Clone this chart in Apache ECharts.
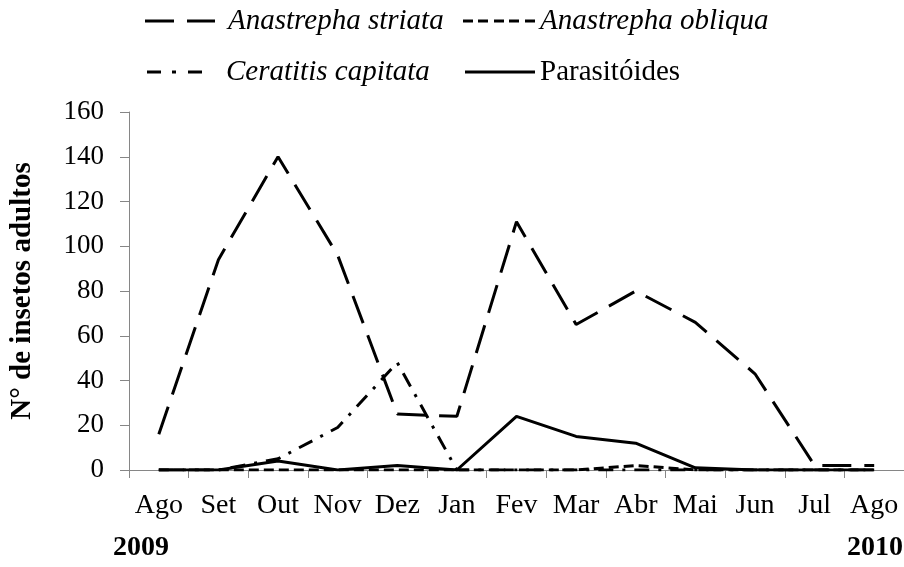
<!DOCTYPE html>
<html>
<head>
<meta charset="utf-8">
<script src="https://cdn.jsdelivr.net/npm/echarts@6/dist/echarts.min.js"></script>
<style>
html,body{margin:0;padding:0;background:#fff;}
#chart{width:904px;height:567px;}
</style>
</head>
<body>
<div id="chart"></div>
<script>
var categories = ['Ago','Set','Out','Nov','Dez','Jan','Fev','Mar','Abr','Mai','Jun','Jul','Ago'];
var yearLabels = ['2009','2010'];
var seriesNames = ['Anastrepha striata','Anastrepha obliqua','Ceratitis capitata','Parasitóides'];
var striata  = [16, 94, 140, 96, 25, 24, 111, 65, 80, 66, 43, 2, 2];
var obliqua  = [0, 0, 0, 0, 0, 0, 0, 0, 2, 0, 0, 0, 0];
var capitata = [0, 0, 5, 19, 48, 0, 0, 0, 0, 0, 0, 0, 0];
var parasit  = [0, 0, 4, 0, 2, 0, 24, 15, 12, 1, 0, 0, 0];
var yTicks = {min: 0, max: 160, interval: 20};

var FONT = 'Liberation Serif';
var chart = echarts.init(document.getElementById('chart'), null, {renderer: 'canvas'});

function legendFor(name, icon, left, top, w, pad, italic) {
  return {
    data: [{name: name, icon: icon}],
    left: left, top: top,
    padding: 0,
    itemWidth: w, itemHeight: 3,
    itemStyle: {color: '#000', borderWidth: 0},
    textStyle: {
      fontFamily: FONT, fontSize: 29, fontStyle: italic ? 'italic' : 'normal',
      color: '#000', lineHeight: 30, padding: [0, 0, 0, pad]
    }
  };
}

function lineSeries(name, data, type, z) {
  return {
    name: name, type: 'line', data: data, symbol: 'none', showSymbol: false,
    z: z,
    lineStyle: {color: '#000', width: 3, type: type},
    itemStyle: {color: '#000'},
    emphasis: {disabled: true}
  };
}

var option = {
  animation: false,
  backgroundColor: '#fff',
  legend: [
    legendFor(seriesNames[0], 'path://M0,0h29v3h-29zM42,0h28v3h-28z', 145, 6, 70, 8, true),
    legendFor(seriesNames[1], 'path://M0,0h10v3h-10zM15,0h10v3h-10zM31,0h10v3h-10zM46,0h10v3h-10zM62,0h10v3h-10z', 463, 6, 72, 0, true),
    legendFor(seriesNames[2], 'path://M0,0h14v3h-14zM25,0h4v3h-4zM41,0h14v3h-14z', 147, 57, 55, 19, true),
    legendFor(seriesNames[3], 'path://M0,0h72v3h-72z', 465, 57, 70, 0, false)
  ],
  grid: {left: 128, top: 112, width: 780, height: 358, containLabel: false},
  xAxis: {
    type: 'category', data: categories, boundaryGap: true,
    axisLine: {show: true, lineStyle: {color: '#868686', width: 1}},
    axisTick: {show: true, alignWithLabel: false, length: 8, lineStyle: {color: '#868686'}},
    axisLabel: {interval: 0, fontFamily: FONT, fontSize: 28, color: '#000', margin: 22},
    splitLine: {show: false}
  },
  yAxis: {
    type: 'value', min: yTicks.min, max: yTicks.max, interval: yTicks.interval,
    name: 'N° de insetos adultos', nameLocation: 'middle', nameGap: 92, nameRotate: 90,
    nameTextStyle: {fontFamily: FONT, fontSize: 29, fontWeight: 'bold', color: '#000'},
    axisLine: {show: true, lineStyle: {color: '#868686', width: 1}},
    axisTick: {show: true, length: 9, lineStyle: {color: '#868686'}},
    axisLabel: {fontFamily: FONT, fontSize: 27, color: '#000', margin: 25},
    splitLine: {show: false}
  },
  series: [
    lineSeries(seriesNames[0], striata, [29, 13], 6),
    lineSeries(seriesNames[1], obliqua, [10, 5], 3),
    lineSeries(seriesNames[2], capitata, [15, 9, 3, 9], 4),
    lineSeries(seriesNames[3], parasit, 'solid', 5)
  ],
  graphic: [
    {type: 'text', left: 113, top: 534, style: {text: yearLabels[0], font: 'bold 28px "Liberation Serif"', fill: '#000'}},
    {type: 'text', left: 847, top: 534, style: {text: yearLabels[1], font: 'bold 28px "Liberation Serif"', fill: '#000'}}
  ]
};
chart.setOption(option);
</script>
</body>
</html>
